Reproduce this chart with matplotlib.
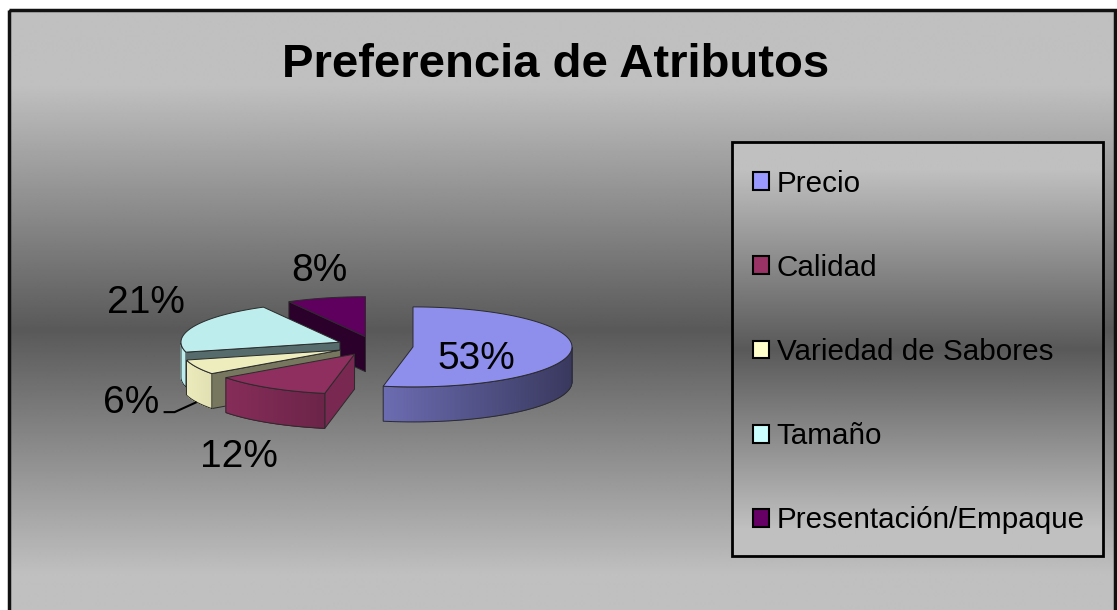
import numpy as np
import matplotlib.pyplot as plt
from matplotlib.patches import Polygon, Rectangle, Patch
from matplotlib.collections import PolyCollection
from matplotlib.colors import to_rgb

plt.rcParams['font.family'] = ['Liberation Sans', 'DejaVu Sans']

titulo = 'Preferencia de Atributos'
categorias = ['Precio', 'Calidad', 'Variedad de Sabores', 'Tamaño', 'Presentación/Empaque']
porcentajes = [53, 12, 6, 21, 8]
colores = ['#9999FF', '#993366', '#FFFFCC', '#CCFFFF', '#660066']
linea_guia = [False, False, True, False, False]

W, H = 1117, 610
CX, CY = 375, 346          # centro del pastel (px)
RX, RY = 159, 40           # semiejes de la elipse
PROF = 35                  # grosor 3D
EXPLOSION = 0.24
BORDE = '#2b2b2b'


def tono(color, f):
    return tuple(min(1.0, v * f) for v in to_rgb(color))


def fondo_degradado(ax, x0, x1, y0, y1, centro, semi, z):
    ys = np.arange(y0, y1 + 1)
    t = np.clip(np.abs(ys - centro) / semi, 0, 1)
    g = 0.35 + (0.753 - 0.35) * t
    img = np.repeat(g[:, None], 2, axis=1)
    ax.imshow(img, cmap='gray', vmin=0, vmax=1, extent=(x0, x1, y1, y0),
              aspect='auto', interpolation='bilinear', zorder=z)


def punto(cx, cy, th, dz=0):
    return cx + RX * np.cos(th), cy - RY * np.sin(th) + dz


fig = plt.figure(figsize=(W / 100, H / 100), dpi=100, facecolor='white')
ax = fig.add_axes([0, 0, 1, 1])
ax.set_xlim(0, W)
ax.set_ylim(H, 0)
ax.axis('off')

# fondo del área del gráfico
fondo_degradado(ax, 9, W - 2, 10, H + 10, 330, 245, 0)
ax.add_patch(Rectangle((9, 10), W - 11, H + 10, fill=False, edgecolor='#111111',
                       lw=2.5, zorder=1))

ax.text(W / 2 - 3, 77, titulo, ha='center', va='baseline', fontsize=34,
        fontweight='bold', zorder=20)

# porciones del pastel 3D
total = sum(porcentajes)
porciones = []
inicio = 90.0
for i, v in enumerate(porcentajes):
    fin = inicio - 360.0 * v / total
    a1, a2 = np.radians(inicio), np.radians(fin)
    mid = (a1 + a2) / 2
    porciones.append(dict(i=i, a1=a1, a2=a2, mid=mid,
                          cx=CX + EXPLOSION * RX * np.cos(mid),
                          cy=CY - EXPLOSION * RY * np.sin(mid)))
    inicio = fin

z = 3
for p in sorted(porciones, key=lambda p: p['cy']):
    c = colores[p['i']]
    cx, cy = p['cx'], p['cy']
    th = np.linspace(p['a1'], p['a2'], 300)
    # caras radiales visibles
    for ang, normal in ((p['a1'], p['a1'] + np.pi / 2), (p['a2'], p['a2'] - np.pi / 2)):
        if np.sin(normal) < -1e-6:
            f = 0.42 + 0.4 * max(0.0, np.cos(normal)) ** 4
            x, y = punto(cx, cy, ang)
            cara = [(cx, cy), (x, y), (x, y + PROF), (cx, cy + PROF)]
            ax.add_patch(Polygon(cara, closed=True, facecolor=tono(c, f),
                                 edgecolor=BORDE, lw=0.7, zorder=z))
    # pared exterior (solo la mitad frontal)
    frente = th[np.sin(th) < 0]
    if len(frente) > 1:
        xs, ys = punto(cx, cy, frente)
        quads, cols = [], []
        for k in range(len(frente) - 1):
            quads.append([(xs[k], ys[k]), (xs[k + 1], ys[k + 1]),
                          (xs[k + 1], ys[k + 1] + PROF), (xs[k], ys[k] + PROF)])
            cols.append(tono(c, 0.65 - 0.28 * np.cos((frente[k] + frente[k + 1]) / 2)))
        ax.add_collection(PolyCollection(quads, facecolors=cols, edgecolors=cols,
                                         linewidths=0.5, zorder=z))
        contorno = list(zip(xs, ys)) + list(zip(xs[::-1], ys[::-1] + PROF))
        ax.add_patch(Polygon(contorno, closed=True, fill=False, edgecolor=BORDE,
                             lw=0.7, zorder=z))
    # cara superior
    xs, ys = punto(cx, cy, th)
    sup = [(cx, cy)] + list(zip(xs, ys))
    ax.add_patch(Polygon(sup, closed=True, facecolor=tono(c, 0.93),
                         edgecolor=BORDE, lw=0.7, zorder=z))
    z += 1

# etiquetas de porcentaje
renderer = fig.canvas.get_renderer()
for p in porciones:
    v = porcentajes[p['i']]
    txt = f'{round(100 * v / total)}%'
    cm, sm = np.cos(p['mid']), np.sin(p['mid'])
    if v / total > 0.4:
        ax.text(p['cx'] + 0.4 * RX * cm, p['cy'] - 0.4 * RY * sm + 0.3 * PROF, txt,
                ha='center', va='center', fontsize=28, zorder=20)
        continue
    if linea_guia[p['i']]:
        # etiqueta desplazada con línea guía hacia la pared
        px, py = punto(p['cx'], p['cy'], p['mid'], PROF)
        ax.text(px - 37, py + 1, txt, ha='right', va='center', fontsize=28, zorder=20)
        ax.plot([px - 33, px - 22, px], [py + 10, py + 10, py], color='black', lw=1.5,
                solid_capstyle='butt', zorder=19)
        continue
    axx = p['cx'] + 1.06 * RX * cm
    axy = p['cy'] - 1.15 * RY * sm + (1.4 * PROF if sm < 0 else 0)
    t = ax.text(axx, axy, txt, ha='center', va='center', fontsize=28, zorder=20)
    bb = t.get_window_extent(renderer)
    fx = np.sign(cm) * min(1.0, (1.5 * abs(cm)) ** 2)
    fy = np.clip(2.5 * sm, -1, 1)
    t.set_position((axx + bb.width / 2 * fx, axy - bb.height / 2 * fy - 3))

# leyenda
fondo_degradado(ax, 732, 1103, 142, 556, 349, 180, 25)
ax.add_patch(Rectangle((732, 142), 371, 414, fill=False, edgecolor='black', lw=2,
                       zorder=26))
manijas = [Patch(facecolor=c, edgecolor='black', lw=1.5) for c in colores]
leg = ax.legend(manijas, categorias, loc='center left', bbox_to_anchor=(753, 352),
                bbox_transform=ax.transData, frameon=False, fontsize=21.3,
                handlelength=0.55, handleheight=0.55, handletextpad=0.25,
                labelspacing=1.9, borderpad=0, borderaxespad=0)
leg.set_zorder(30)

fig.savefig('out.png', dpi=100, facecolor='white')
